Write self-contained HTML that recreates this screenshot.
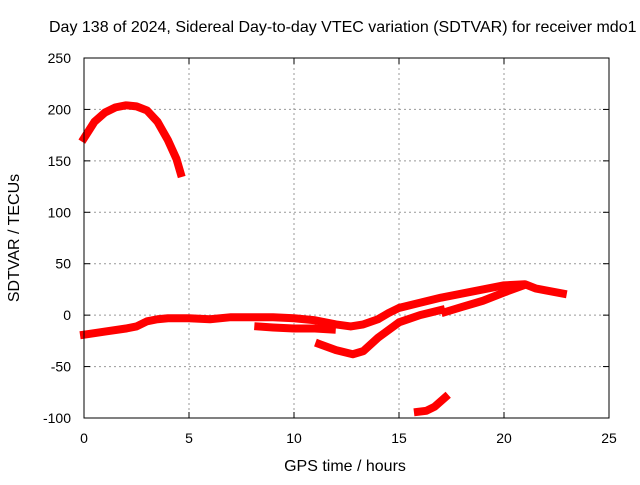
<!DOCTYPE html>
<html><head><meta charset="utf-8"><style>
body{margin:0;background:#fff}
svg{font-family:"Liberation Sans",sans-serif;font-size:14px}
.big{font-size:16px}
</style></head><body>
<svg id="c" width="640" height="480">
<rect width="640" height="480" fill="#fff"/>
<text class="big" x="49" y="32">Day 138 of 2024, Sidereal Day-to-day VTEC variation (SDTVAR) for receiver mdo1</text>
<text class="big" x="345" y="471" text-anchor="middle">GPS time / hours</text>
<text class="big" transform="translate(19,238) rotate(-90)" text-anchor="middle">SDTVAR / TECUs</text>
<g id="grid"></g><g id="ticks"></g><g id="series"></g>
<rect x="84" y="58" width="525" height="360" fill="none" stroke="#000"/>
</svg>
<script>
const xTicks=[0,5,10,15,20,25];
const yTicks=[-100,-50,0,50,100,150,200,250];
const arcH=[0,0.5,1,1.5,2,2.5,3,3.5,4,4.4,4.6];
const arcV=[172,188,197,202,204,203,199,188,170,152,138];
const mainH=[0,1,2,2.5,3,3.5,4,5,6,7,8,9,10,11,12,12.7,13.3,14,14.5,15,16,17,18,19,20,21,21.5,22,22.8];
const mainV=[-19,-16,-13,-11,-6,-4,-3,-3,-4,-2,-2,-2,-3,-5,-9,-11,-9,-4,2,7,12,17,21,25,29,30,26,24,21];
const midH=[8.3,9,10,11,11.8];
const midV=[-11,-12,-13,-13,-14];
const dipH=[11.2,12,12.8,13.3,14,15,16,17];
const dipV=[-28,-34,-38,-35,-22,-7,0,5];
const lateH=[17.2,18,19,20,20.8];
const lateV=[3,8,14,22,28];
const lowH=[15.9,16.3,16.7,17.2];
const lowV=[-94,-93,-89,-80];
const X=h=>84+h*21, Y=v=>58+(250-v)*360/350;
const NS='http://www.w3.org/2000/svg';
const g=document.getElementById('grid'),t=document.getElementById('ticks'),s=document.getElementById('series');
function mk(tag,at,p){const e=document.createElementNS(NS,tag);for(const k in at)e.setAttribute(k,at[k]);p.appendChild(e);return e;}
xTicks.forEach(v=>{const x=X(v);
 const l=mk('line',{x1:x,x2:x,y1:58,y2:418,stroke:'#999','stroke-dasharray':'2,3'},g);
 
 
 mk('line',{x1:x,x2:x,y1:418,y2:412,stroke:'#000'},t);mk('line',{x1:x,x2:x,y1:58,y2:64,stroke:'#000'},t);
 const tx=mk('text',{x:x,y:443,'text-anchor':'middle'},t);tx.textContent=v;
 
 });
yTicks.forEach(v=>{const y=Y(v);
 const l=mk('line',{x1:84,x2:609,y1:y,y2:y,stroke:'#999','stroke-dasharray':'2,3'},g);
 
 
 mk('line',{x1:84,x2:90,y1:y,y2:y,stroke:'#000'},t);mk('line',{x1:609,x2:603,y1:y,y2:y,stroke:'#000'},t);
 const tx=mk('text',{x:71,y:y+5,'text-anchor':'end'},t);tx.textContent=v;
 
 });
[[arcH,arcV,'arc'],[mainH,mainV,'main'],[midH,midV,'mid'],[dipH,dipV,'dip'],[lateH,lateV,'late'],[lowH,lowV,'low']].forEach(([H,V,n])=>{
 const p=mk('polyline',{points:H.map((h,i)=>X(h)+','+Y(V[i])).join(' '),fill:'none',stroke:'#f00','stroke-width':8,'stroke-linejoin':'round','stroke-linecap':'square'},s);
 
 });
</script>
</body></html>
